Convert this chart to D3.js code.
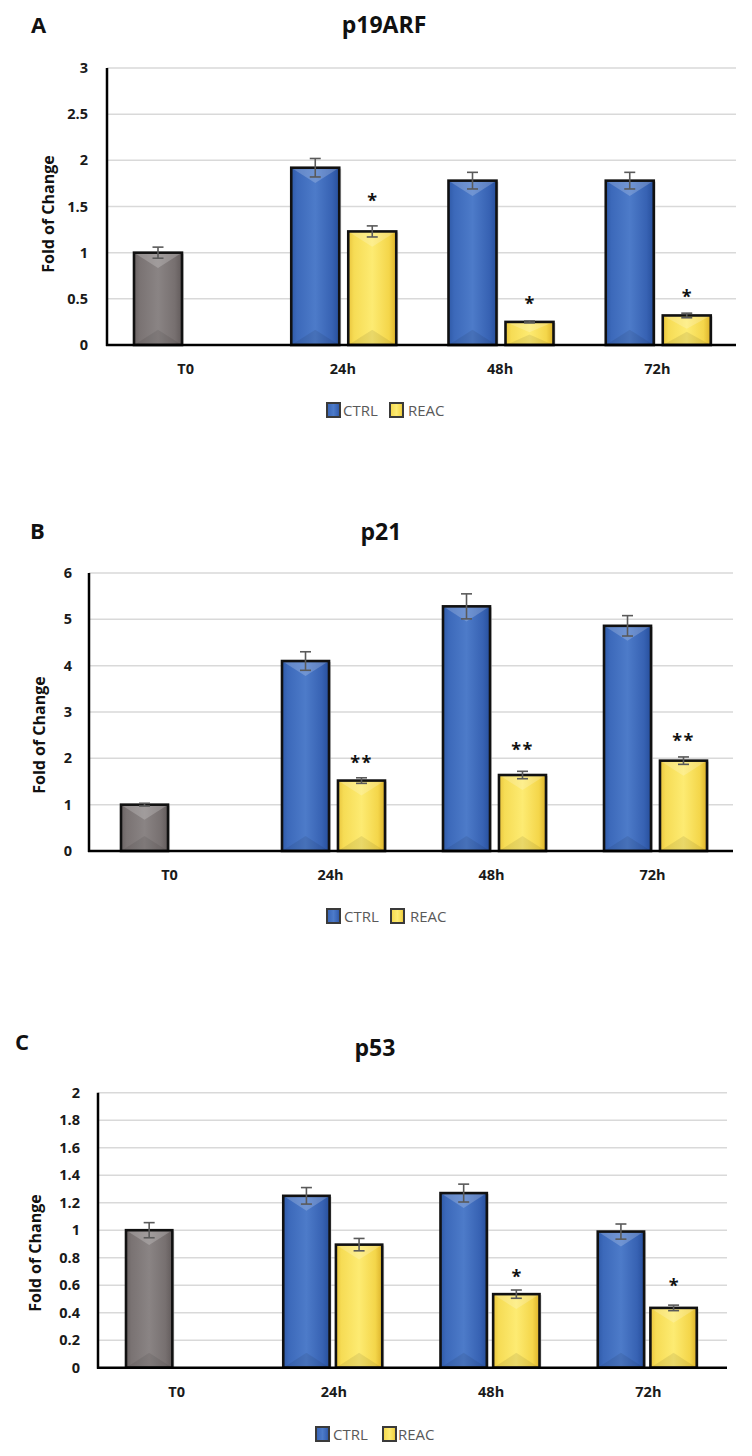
<!DOCTYPE html>
<html>
<head>
<meta charset="utf-8">
<script src="https://cdn.jsdelivr.net/npm/d3@7"></script>
<style>
  html, body { margin: 0; padding: 0; background: #fff; }
  svg { display: block; }
</style>
</head>
<body>
<svg id="chart" width="752" height="1456"></svg>
<script>
// ---------------- DATA ----------------
const categories = ["T0", "24h", "48h", "72h"];
const seriesNames = ["CTRL", "REAC"];

// Panel A: p19ARF (T0 value is the gray baseline bar)
const p19Ctrl    = [1.00, 1.92, 1.78, 1.78];
const p19CtrlErr = [0.06, 0.10, 0.09, 0.09];
const p19Reac    = [null, 1.23, 0.25, 0.32];
const p19ReacErr = [null, 0.06, 0.01, 0.025];
const p19Sig     = ["", "*", "*", "*"];
const p19SigAt   = [null, 1.60, 0.49, 0.56];
const p19Ticks   = [0, 0.5, 1, 1.5, 2, 2.5, 3];
const p19TickLabels = ["0", "0.5", "1", "1.5", "2", "2.5", "3"];

// Panel B: p21
const p21Ctrl    = [1.00, 4.10, 5.28, 4.86];
const p21CtrlErr = [0.03, 0.20, 0.27, 0.22];
const p21Reac    = [null, 1.52, 1.64, 1.95];
const p21ReacErr = [null, 0.06, 0.08, 0.08];
const p21Sig     = ["", "**", "**", "**"];
const p21SigAt   = [null, 1.99, 2.27, 2.45];
const p21Ticks   = [0, 1, 2, 3, 4, 5, 6];
const p21TickLabels = ["0", "1", "2", "3", "4", "5", "6"];

// Panel C: p53
const p53Ctrl    = [1.00, 1.25, 1.27, 0.99];
const p53CtrlErr = [0.055, 0.06, 0.065, 0.055];
const p53Reac    = [null, 0.895, 0.535, 0.435];
const p53ReacErr = [null, 0.045, 0.03, 0.02];
const p53Sig     = ["", "", "*", "*"];
const p53SigAt   = [null, null, 0.69, 0.625];
const p53Ticks   = [0, 0.2, 0.4, 0.6, 0.8, 1, 1.2, 1.4, 1.6, 1.8, 2];
const p53TickLabels = ["0", "0.2", "0.4", "0.6", "0.8", "1", "1.2", "1.4", "1.6", "1.8", "2"];

const panelLetters = ["A", "B", "C"];
const panelTitles = ["p19ARF", "p21", "p53"];
const yAxisTitle = "Fold of Change";

// ---------------- LAYOUT ----------------
const panels = [
  { letter: panelLetters[0], title: panelTitles[0], ctrl: p19Ctrl, ctrlErr: p19CtrlErr, reac: p19Reac, reacErr: p19ReacErr,
    sig: p19Sig, sigAt: p19SigAt, ticks: p19Ticks, tickLabels: p19TickLabels,
    left: 107, right: 736, top: 68, base: 345, labelRight: 88, sub: [27, 132], subPad: 0.158,
    letterX: 31, letterY: 33, titleX: 384, titleY: 33, yTitleX: 49, yTitleY: 214, catDy: 19,
    legendY: 410, legend: [[327, 343], [390, 408]] },
  { letter: panelLetters[1], title: panelTitles[1], ctrl: p21Ctrl, ctrlErr: p21CtrlErr, reac: p21Reac, reacErr: p21ReacErr,
    sig: p21Sig, sigAt: p21SigAt, ticks: p21Ticks, tickLabels: p21TickLabels,
    left: 89, right: 733, top: 573, base: 851, labelRight: 72, sub: [32, 135], subPad: 0.16,
    letterX: 30, letterY: 539, titleX: 381, titleY: 540, yTitleX: 40, yTitleY: 735, catDy: 19,
    legendY: 916, legend: [[327, 344], [391, 410]] },
  { letter: panelLetters[2], title: panelTitles[2], ctrl: p53Ctrl, ctrlErr: p53CtrlErr, reac: p53Reac, reacErr: p53ReacErr,
    sig: p53Sig, sigAt: p53SigAt, ticks: p53Ticks, tickLabels: p53TickLabels,
    left: 98, right: 727, top: 1092.7, base: 1367.7, labelRight: 80, sub: [28, 127], subPad: 0.12,
    letterX: 15, letterY: 1050, titleX: 375, titleY: 1056, yTitleX: 36, yTitleY: 1253, catDy: 19,
    legendY: 1434, legend: [[316, 333], [383, 398]] }
];

const svg = d3.select("#chart");
const defs = svg.append("defs");

function hGrad(id, stops) {
  const g = defs.append("linearGradient").attr("id", id).attr("x1", "0%").attr("x2", "100%").attr("y1", "0%").attr("y2", "0%");
  stops.forEach(s => g.append("stop").attr("offset", s[0]).attr("stop-color", s[1]));
}
hGrad("gBlue",   [["0%", "#2f5aa8"], ["12%", "#3c69ba"], ["50%", "#4d7bc9"], ["85%", "#3762b3"], ["100%", "#274f9c"]]);
hGrad("gYellow", [["0%", "#e9c53c"], ["12%", "#f6dc55"], ["50%", "#fdeb72"], ["85%", "#f4d64a"], ["100%", "#dcb22a"]]);
hGrad("gGray",   [["0%", "#6a6363"], ["12%", "#7a7373"], ["50%", "#8a8484"], ["85%", "#777070"], ["100%", "#625b5b"]]);

const fontBold = "'Open Sans', 'DejaVu Sans', sans-serif";

function fillFor(series, i) {
  if (series === "CTRL") return i === 0 ? "url(#gGray)" : "url(#gBlue)";
  return "url(#gYellow)";
}

panels.forEach(p => {
  const g = svg.append("g");
  const y = d3.scaleLinear().domain([p.ticks[0], p.ticks[p.ticks.length - 1]]).range([p.base, p.top]);
  const x0 = d3.scaleBand().domain(categories).range([p.left, p.right]);
  const x1 = d3.scaleBand().domain(seriesNames).range(p.sub).paddingInner(p.subPad).paddingOuter(0);

  // gridlines
  g.append("g").selectAll("line").data(p.ticks.filter(t => t > 0)).join("line")
    .attr("x1", p.left).attr("x2", p.right)
    .attr("y1", d => y(d)).attr("y2", d => y(d))
    .attr("stroke", "#d9d9d9").attr("stroke-width", 1.5);

  // y axis labels
  const yAxis = d3.axisLeft(y).tickValues(p.ticks).tickSize(0)
    .tickPadding(p.left - p.labelRight)
    .tickFormat((d, i) => p.tickLabels[i]);
  const ya = g.append("g").attr("transform", `translate(${p.left},0)`).call(yAxis);
  ya.select(".domain").remove();
  ya.selectAll("text").attr("font-family", fontBold).attr("font-weight", "bold")
    .attr("font-size", 14.5).attr("fill", "#1a1a1a");

  // bars
  const bars = [];
  categories.forEach((c, i) => {
    [["CTRL", p.ctrl[i], p.ctrlErr[i]], ["REAC", p.reac[i], p.reacErr[i]]].forEach(([s, v, e]) => {
      if (v !== null && v !== undefined) bars.push({ cat: c, i, series: s, value: v, err: e });
    });
  });
  const bx = d => x0(d.cat) + x1(d.series);
  const bw = x1.bandwidth();

  // soft shadow
  g.append("g").selectAll("rect").data(bars).join("rect")
    .attr("x", d => bx(d) + 2).attr("y", d => y(d.value) + 1)
    .attr("width", bw).attr("height", d => y(0) - y(d.value) - 1)
    .attr("fill", "#bfbfbf").attr("opacity", 0.6);

  const barG = g.append("g").selectAll("g").data(bars).join("g");
  barG.append("rect")
    .attr("x", d => bx(d)).attr("y", d => y(d.value))
    .attr("width", bw).attr("height", d => y(0) - y(d.value))
    .attr("fill", d => fillFor(d.series, d.i));
  // bevel: light chevron at top, dark at bottom
  barG.append("path")
    .attr("d", d => {
      const x = bx(d), t = y(d.value), h = Math.min(bw * 0.32, (y(0) - t) * 0.45);
      return `M${x},${t}L${x + bw},${t}L${x + bw / 2},${t + h}Z`;
    })
    .attr("fill", "#ffffff").attr("opacity", 0.2);
  barG.append("path")
    .attr("d", d => {
      const x = bx(d), b = y(0), h = Math.min(bw * 0.32, (b - y(d.value)) * 0.45);
      return `M${x},${b}L${x + bw},${b}L${x + bw / 2},${b - h}Z`;
    })
    .attr("fill", "#000000").attr("opacity", 0.08);
  barG.append("rect")
    .attr("x", d => bx(d)).attr("y", d => y(d.value))
    .attr("width", bw).attr("height", d => y(0) - y(d.value))
    .attr("fill", "none").attr("stroke", "#111").attr("stroke-width", 2.6);

  // error bars
  const eg = g.append("g").attr("stroke", "#5a5a5a").attr("stroke-width", 1.6);
  bars.forEach(d => {
    const cx = bx(d) + bw / 2;
    eg.append("line").attr("x1", cx).attr("x2", cx).attr("y1", y(d.value + d.err)).attr("y2", y(d.value - d.err));
    [d.value + d.err, d.value - d.err].forEach(v => {
      eg.append("line").attr("x1", cx - 5.5).attr("x2", cx + 5.5).attr("y1", y(v)).attr("y2", y(v));
    });
  });

  // significance marks
  categories.forEach((c, i) => {
    if (!p.sig[i]) return;
    g.append("text")
      .attr("x", x0(c) + x1("REAC") + bw / 2)
      .attr("y", y(p.sigAt[i]) + 10)
      .attr("text-anchor", "middle")
      .attr("font-family", fontBold).attr("font-weight", "bold").attr("font-size", 18)
      .attr("letter-spacing", p.sig[i].length > 1 ? 1.5 : 0)
      .attr("fill", "#111")
      .text(p.sig[i]);
  });

  // axes lines
  g.append("line").attr("x1", p.left).attr("x2", p.left).attr("y1", p.top).attr("y2", p.base + 1)
    .attr("stroke", "#000").attr("stroke-width", 2.5);
  g.append("line").attr("x1", p.left - 1).attr("x2", p.right).attr("y1", p.base).attr("y2", p.base)
    .attr("stroke", "#000").attr("stroke-width", 2.5);

  // category axis
  const xAxis = d3.axisBottom(x0).tickSize(0).tickPadding(p.catDy);
  const xa = g.append("g").attr("transform", `translate(0,${p.base})`).call(xAxis);
  xa.select(".domain").remove();
  xa.selectAll("text").attr("font-family", fontBold).attr("font-weight", "bold")
    .attr("font-size", 14.5).attr("fill", "#1a1a1a");

  // titles
  g.append("text").attr("x", p.letterX).attr("y", p.letterY)
    .attr("font-family", fontBold).attr("font-weight", "bold").attr("font-size", 22).attr("fill", "#111")
    .text(p.letter);
  g.append("text").attr("x", p.titleX).attr("y", p.titleY).attr("text-anchor", "middle")
    .attr("font-family", fontBold).attr("font-weight", "bold").attr("font-size", 23).attr("fill", "#111")
    .text(p.title);
  g.append("text")
    .attr("transform", `translate(${p.yTitleX + 5},${p.yTitleY}) rotate(-90)`)
    .attr("text-anchor", "middle")
    .attr("font-family", fontBold).attr("font-weight", "bold").attr("font-size", 16).attr("fill", "#111")
    .text(yAxisTitle);

  // legend
  const lg = g.append("g");
  seriesNames.forEach((s, k) => {
    const [sx, tx] = p.legend[k];
    lg.append("rect").attr("x", sx).attr("y", p.legendY - 7).attr("width", 13).attr("height", 14)
      .attr("fill", s === "CTRL" ? "url(#gBlue)" : "url(#gYellow)")
      .attr("stroke", "#3a3a3a").attr("stroke-width", 2);
    lg.append("text").attr("x", tx).attr("y", p.legendY + 5.5)
      .attr("font-family", fontBold).attr("font-size", 15).attr("fill", "#595959")
      .text(s);
  });
});
</script>
</body>
</html>
